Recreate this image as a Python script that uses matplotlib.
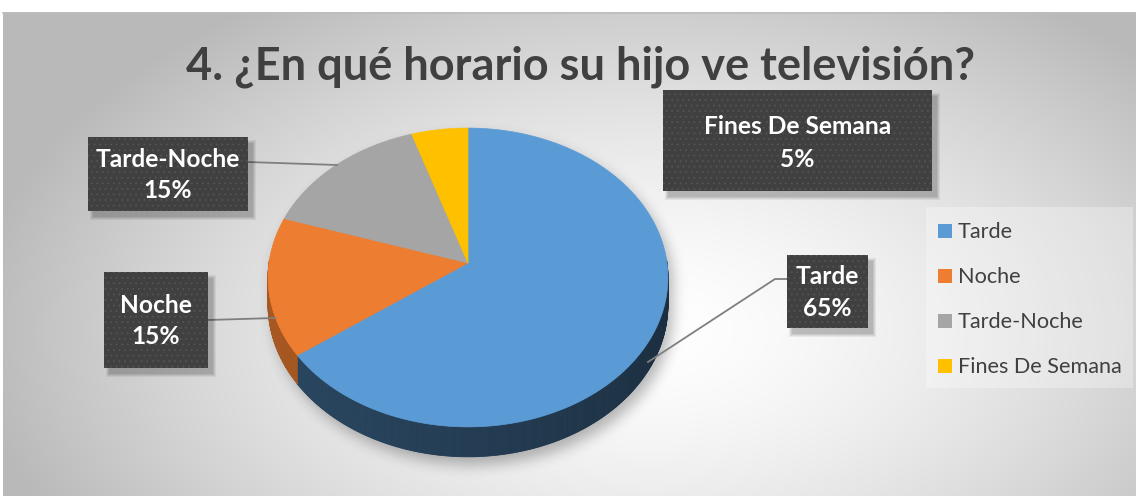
import numpy as np
import matplotlib
matplotlib.use('Agg')
import matplotlib.pyplot as plt
from matplotlib.patches import Polygon, Rectangle
from matplotlib.path import Path

# ---------------- data ----------------
categories = ['Tarde', 'Noche', 'Tarde-Noche', 'Fines De Semana']
values = [65, 15, 15, 5]
pct_labels = ['65%', '15%', '15%', '5%']
title = '4. ¿En qué horario su hijo ve televisión?'
colors = ['#5B9BD5', '#ED7D31', '#A5A5A5', '#FFC000']

FONT = 'Lato'
W, H = 1136, 496
fig = plt.figure(figsize=(11.36, 4.96), dpi=100)
fig.patch.set_facecolor('white')
ax = fig.add_axes([0, 0, 1, 1])
ax.set_xlim(0, W)
ax.set_ylim(H, 0)
ax.axis('off')

# ---------------- background gradient ----------------
yy, xx = np.mgrid[12:496, 3:1136] + 0.5
t = np.sqrt(((xx - 650) / 680.0) ** 2 + ((yy - 330) / 400.0) ** 2)
g = 255 - 70 * np.clip(t, 0, 1) ** 1.5
bg = np.dstack([g, g, g]) / 255.0
ax.imshow(bg, extent=(3, 1136, 496, 12), zorder=0, interpolation='bilinear', aspect='auto')
ax.plot([3, 1136], [12.5, 12.5], color='#BDBDBD', lw=1.2, zorder=0.5)
ax.set_xlim(0, W)
ax.set_ylim(H, 0)

# ---------------- pie geometry (perspective) ----------------
cx, cy = 468, 263
A, B, C = 148.0, 0.097, 199.0
T = 27.0


def proj(theta_deg, r=1.0):
    th = np.radians(theta_deg)
    u = r * np.cos(th)
    v = r * np.sin(th)
    d = 1 + B * v
    return cx + C * u / d, cy - A * v / d, d


total = float(sum(values))
bounds = [90 - 360 * sum(values[:i]) / total for i in range(len(values) + 1)]

# shadow of pie
sx0, sx1, sy0, sy1 = 230, 730, 100, 496
gy, gx = np.mgrid[sy0:sy1, sx0:sx1] + 0.5
ang = np.linspace(0, 360, 361)
px, py, pd = proj(ang)
top_pts = np.column_stack([px, py])
bot_pts = np.column_stack([px, py + T / pd])
mask = np.zeros(gx.shape, bool)
pts = np.column_stack([gx.ravel() - 5, gy.ravel() - 8])
for poly in (top_pts, bot_pts):
    mask |= Path(poly).contains_points(pts).reshape(gx.shape)
m = mask.astype(float)
k = np.exp(-0.5 * (np.arange(-18, 19) / 7.0) ** 2)
k /= k.sum()
m = np.apply_along_axis(lambda r: np.convolve(r, k, mode='same'), 1, m)
m = np.apply_along_axis(lambda r: np.convolve(r, k, mode='same'), 0, m)
sh = np.zeros(gx.shape + (4,))
sh[..., 3] = 0.28 * m
ax.imshow(sh, extent=(sx0, sx1, sy1, sy0), zorder=1, interpolation='bilinear', aspect='auto')
ax.set_xlim(0, W)
ax.set_ylim(H, 0)


def shade(col, f):
    rgb = np.array(matplotlib.colors.to_rgb(col))
    return tuple(np.clip(rgb * f, 0, 1))


# sides
for i in range(len(values)):
    t1, t2 = bounds[i], bounds[i + 1]
    th = np.linspace(t1, t2, max(int(abs(t1 - t2)) * 2, 4))
    for j in range(len(th) - 1):
        mid = 0.5 * (th[j] + th[j + 1])
        if np.sin(np.radians(mid)) >= 0.02:
            continue
        x1, y1, d1 = proj(th[j])
        x2, y2, d2 = proj(th[j + 1])
        f = 0.37 + 0.08 * np.cos(np.radians(mid - 195))
        if i == 1:
            f += 0.25
        col = shade(colors[i], f)
        ax.add_patch(Polygon([(x1, y1), (x2, y2), (x2, y2 + T / d2), (x1, y1 + T / d1)],
                             closed=True, facecolor=col, edgecolor=col, lw=0.6, zorder=2))

# tops
for i in range(len(values)):
    t1, t2 = bounds[i], bounds[i + 1]
    th = np.linspace(t1, t2, max(int(abs(t1 - t2)) * 2, 4))
    x, y, _ = proj(th)
    poly = [(cx, cy)] + list(zip(x, y))
    ax.add_patch(Polygon(poly, closed=True, facecolor=colors[i], edgecolor=colors[i],
                         lw=0.5, zorder=3))

# ---------------- text sizing helpers ----------------
renderer = fig.canvas.get_renderer()


def fit_size(s, target_w, weight):
    tt = ax.text(0, 0, s, fontsize=20, fontweight=weight, family=FONT)
    w = tt.get_window_extent(renderer).width
    tt.remove()
    return 20 * target_w / w


# title
ts = fit_size(title, 788, 'bold')
ax.text(581, 79, title, fontsize=ts, fontweight='bold', family=FONT, color='#404040',
        ha='center', va='baseline', zorder=5)

# ---------------- data labels ----------------
lab_fs = fit_size('Fines De Semana', 187, 'bold')
plt.rcParams['hatch.linewidth'] = 0.6


def label_box(x0, y0, x1, y1, name, pct, b1, b2):
    w, h = x1 - x0, y1 - y0
    for k_, a_ in enumerate([0.06, 0.06, 0.07, 0.08]):
        e = 3 - k_
        ax.add_patch(Rectangle((x0 + 5 - e, y0 + 6 - e), w + 2 * e, h + 2 * e,
                               facecolor='black', alpha=a_, lw=0, zorder=6))
    ax.add_patch(Rectangle((x0, y0), w, h, facecolor='#404040', lw=0, zorder=7))
    ax.add_patch(Rectangle((x0, y0), w, h, facecolor='none', edgecolor='#545454',
                           hatch='...', lw=0, zorder=7))
    xc = 0.5 * (x0 + x1)
    ax.text(xc, b1, name, fontsize=lab_fs, fontweight='bold', family=FONT, color='white',
            ha='center', va='baseline', zorder=8)
    ax.text(xc, b2, pct, fontsize=lab_fs, fontweight='bold', family=FONT, color='white',
            ha='center', va='baseline', zorder=8)


label_box(787, 255, 868, 328, categories[0], pct_labels[0], 284, 316)
label_box(104, 272, 208, 368, categories[1], pct_labels[1], 313, 344)
label_box(88, 137, 248, 211, categories[2], pct_labels[2], 167, 198)
label_box(663, 90, 932, 191, categories[3], pct_labels[3], 134, 167)

# leader lines
lc = '#7F7F7F'
ax.plot([787, 775, 648], [279, 279, 362], color=lc, lw=1.3, zorder=5)
ax.plot([208, 275], [320, 318], color=lc, lw=1.3, zorder=5)
ax.plot([248, 337], [162, 165], color=lc, lw=1.3, zorder=5)

# ---------------- legend ----------------
ax.add_patch(Rectangle((926, 207), 207, 181, facecolor='white', alpha=0.3, lw=0, zorder=4))
leg_fs = fit_size('Fines De Semana', 164, 'normal')
leg_y = [231, 276, 321, 366]
for i, name in enumerate(categories):
    ax.add_patch(Rectangle((938, leg_y[i] - 7), 14, 14, facecolor=colors[i], lw=0, zorder=5))
    ax.text(958, leg_y[i] + 7, name, fontsize=leg_fs, family=FONT, color='#404040',
            ha='left', va='baseline', zorder=5)

fig.savefig('out.png', dpi=100)
